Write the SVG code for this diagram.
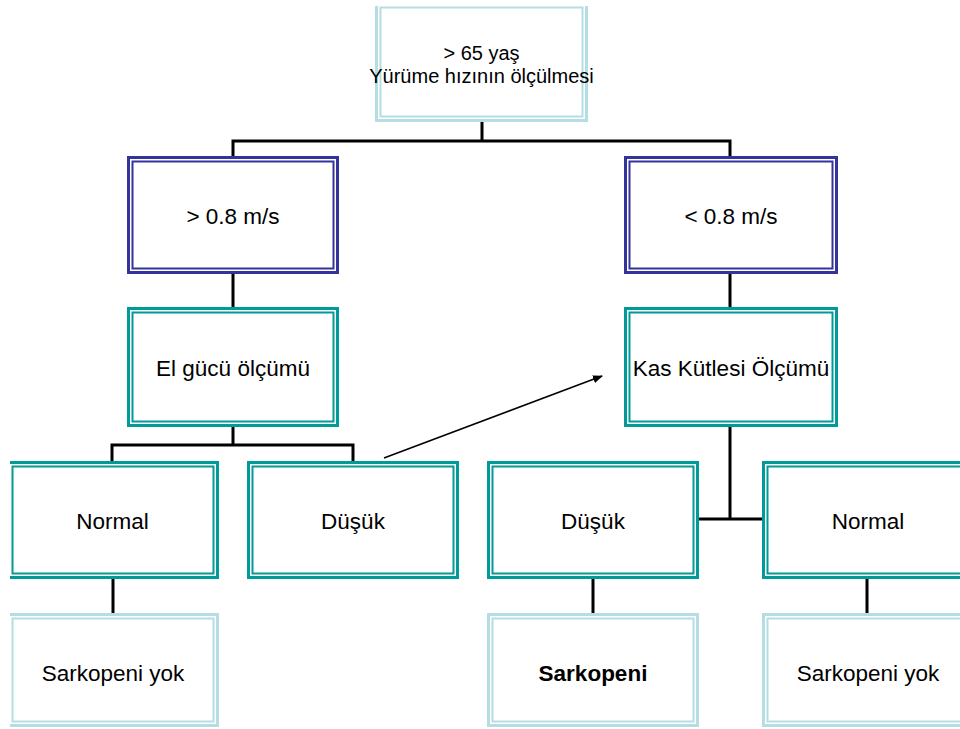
<svg xmlns="http://www.w3.org/2000/svg" width="960" height="729" viewBox="0 0 960 729">
<style>
.o{fill:none;stroke-width:3}
.i{fill:none;stroke-width:2}
.blue{stroke:#333399}
.teal{stroke:#009B98}
.light{stroke:#B4DEE1}
text{font-family:"Liberation Sans",Arial,sans-serif;font-size:22.5px;fill:#000;text-anchor:middle}
.c{fill:none;stroke:#000;stroke-width:3;stroke-linecap:square}
</style>
<defs>
<clipPath id="clip"><rect x="10" y="6" width="950" height="723"/></clipPath>
<marker id="ah" markerWidth="10" markerHeight="8" refX="9" refY="4" orient="auto" markerUnits="userSpaceOnUse">
<path d="M0,0 L10,4 L0,8 Z" fill="#000"/>
</marker>
</defs>
<rect width="960" height="729" fill="#fff"/>
<g id="connectors">
<path class="c" d="M482 122 V141 M233 141 H730 M233 141 V155 M730 141 V155"/>
<path class="c" d="M233 274 V306 M730 274 V306"/>
<path class="c" d="M233 427 V445 M112 445 H353 M112 445 V460 M353 445 V460"/>
<path class="c" d="M730 427 V519 M699 519 H761"/>
<path class="c" d="M113 579 V612 M593 579 V612 M867 579 V612"/>
<path d="M384 458 L602 376" stroke="#000" stroke-width="1.5" fill="none" marker-end="url(#ah)"/>
</g>
<g clip-path="url(#clip)">
<g id="n-top">
<rect class="o light" x="376.5" y="3.5" width="210" height="117"/>
<rect class="i light" x="380.5" y="7.5" width="202" height="109"/>
<text x="481.5" y="60" style="font-size:20px">&gt; 65 yaş</text>
<text x="481.5" y="83" style="font-size:20px">Yürüme hızının ölçülmesi</text>
</g>
<g id="n-fast">
<rect class="o blue" x="128.5" y="157.5" width="209" height="115"/>
<rect class="i blue" x="132.5" y="161.5" width="201" height="107"/>
<text x="233" y="224">&gt; 0.8 m/s</text>
</g>
<g id="n-slow">
<rect class="o blue" x="625.5" y="157.5" width="211" height="115"/>
<rect class="i blue" x="629.5" y="161.5" width="203" height="107"/>
<text x="731" y="224">&lt; 0.8 m/s</text>
</g>
<g id="n-grip">
<rect class="o teal" x="128.5" y="308.5" width="209" height="117"/>
<rect class="i teal" x="132.5" y="312.5" width="201" height="109"/>
<text x="233" y="376">El gücü ölçümü</text>
</g>
<g id="n-mass">
<rect class="o teal" x="625.5" y="308.5" width="211" height="117"/>
<rect class="i teal" x="629.5" y="312.5" width="203" height="109"/>
<text x="731" y="376">Kas Kütlesi Ölçümü</text>
</g>
<g id="n-normal-left">
<rect class="o teal" x="8.5" y="462.5" width="209" height="115"/>
<rect class="i teal" x="12.5" y="466.5" width="201" height="107"/>
<text x="112.5" y="529">Normal</text>
</g>
<g id="n-low-left">
<rect class="o teal" x="248.5" y="462.5" width="209" height="115"/>
<rect class="i teal" x="252.5" y="466.5" width="201" height="107"/>
<text x="353" y="529">Düşük</text>
</g>
<g id="n-low-right">
<rect class="o teal" x="488.5" y="462.5" width="209" height="115"/>
<rect class="i teal" x="492.5" y="466.5" width="201" height="107"/>
<text x="593" y="529">Düşük</text>
</g>
<g id="n-normal-right">
<rect class="o teal" x="763.5" y="462.5" width="209" height="115"/>
<rect class="i teal" x="767.5" y="466.5" width="201" height="107"/>
<text x="868" y="529">Normal</text>
</g>
<g id="n-none-left">
<rect class="o light" x="8.5" y="614.5" width="209" height="111"/>
<rect class="i light" x="12.5" y="618.5" width="201" height="103"/>
<text x="113" y="681">Sarkopeni yok</text>
</g>
<g id="n-sarcopenia">
<rect class="o light" x="488.5" y="614.5" width="209" height="111"/>
<rect class="i light" x="492.5" y="618.5" width="201" height="103"/>
<text x="593" y="681" style="font-weight:bold">Sarkopeni</text>
</g>
<g id="n-none-right">
<rect class="o light" x="763.5" y="614.5" width="209" height="111"/>
<rect class="i light" x="767.5" y="618.5" width="201" height="103"/>
<text x="868" y="681">Sarkopeni yok</text>
</g>
</g>
</svg>
